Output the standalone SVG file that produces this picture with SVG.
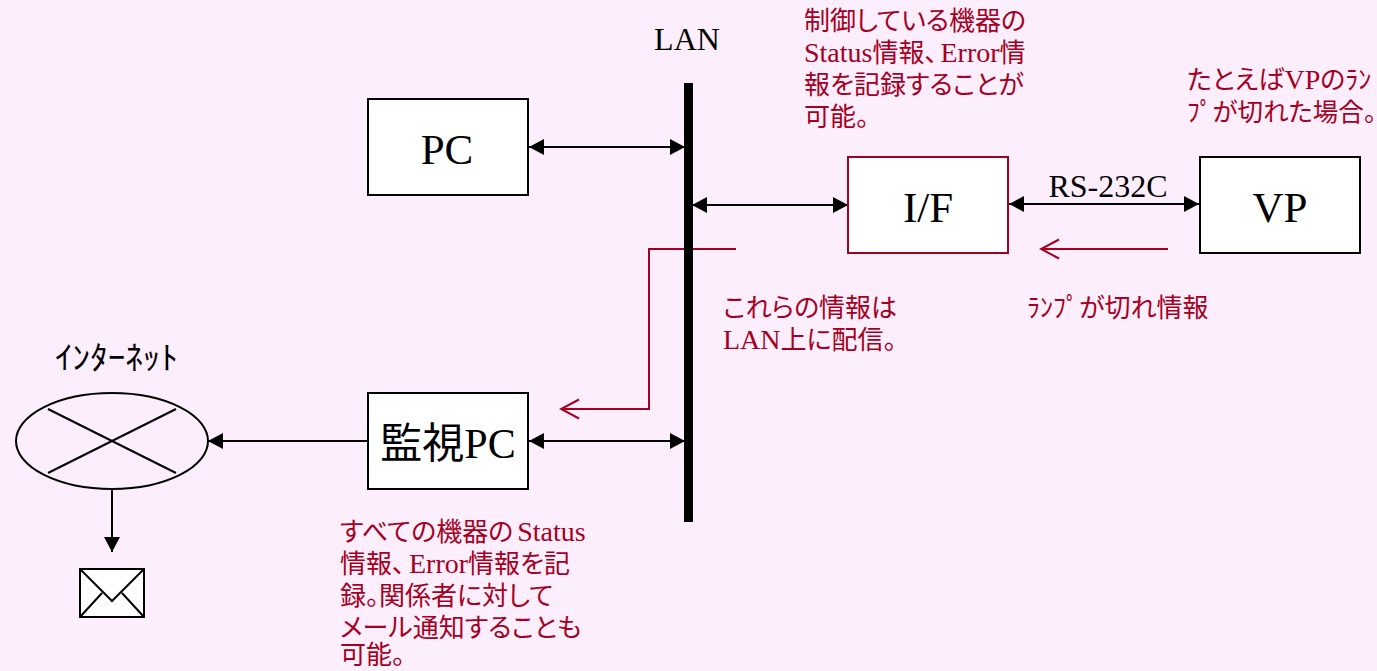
<svg xmlns="http://www.w3.org/2000/svg" width="1377" height="671" viewBox="0 0 1377 671">
<style>
text{font-family:"Liberation Serif","Noto Sans CJK JP",serif}
.box{fill:#fff;stroke:#000;stroke-width:2}
.big{font-size:43px;text-anchor:middle;fill:#000}
.note{font-size:26px;fill:#a50021;font-feature-settings:"palt"}
.la{font-size:28px}
.line{fill:none;stroke:#000;stroke-width:2}
.red{fill:none;stroke:#a50021;stroke-width:2}
</style>
<defs>
<marker id="a" markerUnits="userSpaceOnUse" markerWidth="16" markerHeight="16" refX="15" refY="8" orient="auto-start-reverse"><path d="M0 0L15 8L0 16Z" fill="#000"/></marker>
<marker id="o" markerUnits="userSpaceOnUse" markerWidth="22" markerHeight="22" refX="20" refY="11" orient="auto"><path d="M2 1.500L20 11L2 20.500" fill="none" stroke="#a50021" stroke-width="2"/></marker>
</defs>
<rect width="1377" height="671" fill="#fdeefd"/>
<g id="connectors">
<path class="line" d="M529 147H685" marker-start="url(#a)" marker-end="url(#a)"/>
<path class="line" d="M692 205H848" marker-start="url(#a)" marker-end="url(#a)"/>
<path class="line" d="M1009 204H1199" marker-start="url(#a)" marker-end="url(#a)"/>
<path class="line" d="M529 441H685" marker-start="url(#a)" marker-end="url(#a)"/>
<path class="line" d="M368 441H208" marker-end="url(#a)"/>
<path class="line" d="M112 490V552" marker-end="url(#a)"/>
<path class="red" d="M736 249H649V409H561" marker-end="url(#o)"/>
<path class="red" d="M1168 249H1041" marker-end="url(#o)"/>
</g>
<g id="lan"><rect x="684" y="83" width="9" height="439" fill="#000"/><text x="687" y="50" font-size="32" text-anchor="middle">LAN</text></g>
<g id="pc"><rect class="box" x="368" y="99" width="160" height="96"/><text class="big" x="447" y="164">PC</text></g>
<g id="if"><rect x="848" y="157" width="160" height="96" fill="#fff" stroke="#a50021" stroke-width="2"/><text class="big" x="928" y="222">I/F</text></g>
<g id="vp"><rect class="box" x="1200" y="157" width="160" height="96"/><text class="big" x="1280" y="222">VP</text></g>
<g id="monitor"><rect class="box" x="368" y="393" width="160" height="96"/><text class="big" x="448" y="458" style="font-size:42px">監視PC</text></g>
<g id="internet"><ellipse cx="112" cy="441" rx="96" ry="48" fill="none" stroke="#000" stroke-width="2"/><path class="line" d="M48 409L176 473M48 473L176 409"/><text x="55" y="369" font-size="32" font-family="Noto Sans CJK JP" textLength="123" lengthAdjust="spacingAndGlyphs">ｲﾝﾀｰﾈｯﾄ</text></g>
<g id="mail"><rect class="box" x="80" y="569" width="64" height="48"/><path class="line" d="M80 569L112 601L144 569M80 617L102 593M144 617L122 593"/></g>
<text x="1108" y="197" font-size="32" text-anchor="middle">RS-232C</text>
<g class="notes">
<text class="note" x="804" y="30">制御している機器の</text>
<text class="note" x="804" y="62"><tspan class="la">Status</tspan>情報、<tspan class="la" dx="3">Error</tspan>情</text>
<text class="note" x="804" y="94">報を記録することが</text>
<text class="note" x="804" y="126">可能。</text>
<text class="note" x="1187" y="89">たとえば<tspan class="la">VP</tspan>のﾗﾝ</text>
<text class="note" x="1187" y="121" style="font-size:25.5px">ﾌﾟが切れた場合。</text>
<text class="note" x="1027" y="317">ﾗﾝﾌﾟが切れ情報</text>
<text class="note" x="723" y="317">これらの情報は</text>
<text class="note" x="723" y="349"><tspan class="la">LAN</tspan>上に配信。</text>
<text class="note" x="340" y="541">すべての機器の<tspan class="la" dx="4">Status</tspan></text>
<text class="note" x="340" y="573">情報、<tspan class="la" dx="4">Error</tspan>情報を記</text>
<text class="note" x="340" y="605">録。関係者に対して</text>
<text class="note" x="340" y="637">メール通知することも</text>
<text class="note" x="340" y="664">可能。</text>
</g>
</svg>
